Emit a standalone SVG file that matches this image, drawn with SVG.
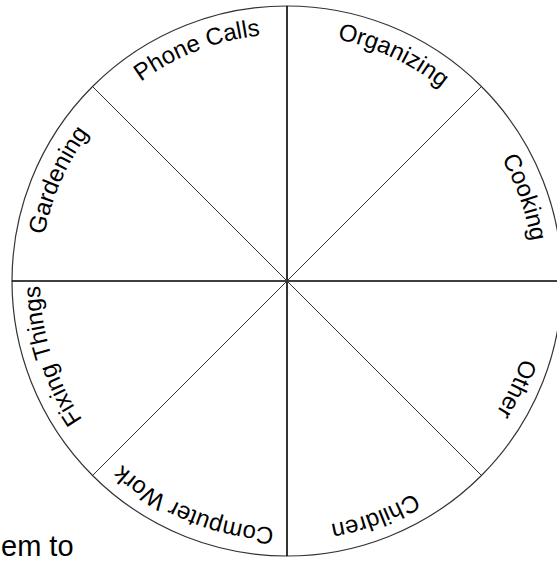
<svg xmlns="http://www.w3.org/2000/svg" xmlns:xlink="http://www.w3.org/1999/xlink" width="557" height="561" viewBox="0 0 557 561">
<style>
.lbl{font-family:"Liberation Sans",Arial,sans-serif;font-size:24px;fill:#000;text-anchor:middle}
.axis{stroke:#000;stroke-width:1.6;fill:none}
.diag{stroke:#333;stroke-width:1;fill:none}
.rim{stroke:#333;stroke-width:1.2;fill:#fff}
</style>
<defs>
<path id="ring" d="M 534,281 A 247 247 0 1 1 40,281 A 247 247 0 1 1 534,281" fill="none"/>
</defs>
<rect width="557" height="561" fill="#fff"/>
<g id="wheel">
<circle class="rim" cx="287" cy="281" r="275"/>
</g>
<g id="connectors">
<line class="axis" x1="287" y1="6" x2="287" y2="556"/>
<line class="axis" x1="12" y1="281" x2="562" y2="281"/>
<line class="diag" x1="92.5" y1="86.5" x2="481.5" y2="475.5"/>
<line class="diag" x1="92.5" y1="475.5" x2="481.5" y2="86.5"/>
</g>
<g id="phone-calls"><text class="lbl"><textPath xlink:href="#ring" href="#ring" startOffset="69.1%">Phone Calls</textPath></text></g>
<g id="organizing"><text class="lbl"><textPath xlink:href="#ring" href="#ring" startOffset="82.0%">Organizing</textPath></text></g>
<g id="cooking"><text class="lbl"><textPath xlink:href="#ring" href="#ring" startOffset="94.6%">Cooking</textPath></text></g>
<g id="other"><text class="lbl"><textPath xlink:href="#ring" href="#ring" startOffset="7.0%">Other</textPath></text></g>
<g id="children"><text class="lbl"><textPath xlink:href="#ring" href="#ring" startOffset="19.3%">Children</textPath></text></g>
<g id="computer-work"><text class="lbl"><textPath xlink:href="#ring" href="#ring" startOffset="31.25%">Computer Work</textPath></text></g>
<g id="fixing-things"><text class="lbl"><textPath xlink:href="#ring" href="#ring" startOffset="45.1%">Fixing Things</textPath></text></g>
<g id="gardening"><text class="lbl"><textPath xlink:href="#ring" href="#ring" startOffset="56.6%">Gardening</textPath></text></g>
<text x="1" y="556" font-family="Liberation Sans, Arial, sans-serif" font-size="29" fill="#000">em to</text>
</svg>
